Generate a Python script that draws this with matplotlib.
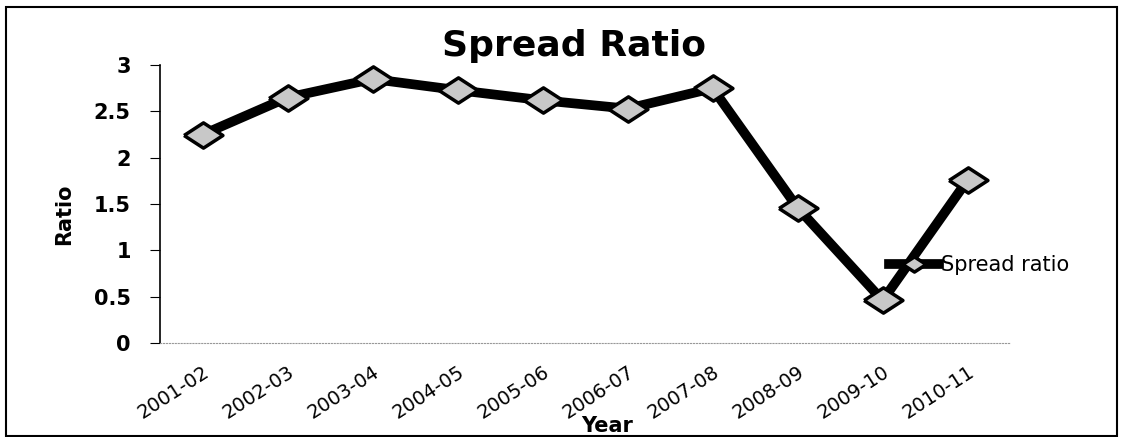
import matplotlib.pyplot as plt
from matplotlib.patches import Rectangle

years = ['2001-02', '2002-03', '2003-04', '2004-05', '2005-06',
         '2006-07', '2007-08', '2008-09', '2009-10', '2010-11']
spread_ratio = [2.25, 2.65, 2.85, 2.73, 2.62, 2.53, 2.75, 1.46, 0.46, 1.76]

plt.rcParams['font.family'] = ['DejaVu Sans']

fig = plt.figure(figsize=(11.23, 4.37), dpi=100)
ax = fig.add_axes([0.1425, 0.215, 0.757, 0.636])

# wide, flat diamond like the Excel marker
diamond = [(-1, 0), (0, 0.65), (1, 0), (0, -0.65), (-1, 0)]

x = range(len(years))
ax.plot(x, spread_ratio, color='black', lw=7, marker=diamond, markersize=28,
        markerfacecolor='#c8c8c8', markeredgecolor='black', markeredgewidth=2.5,
        label='Spread ratio')

ax.set_xlim(-0.5, len(years) - 0.5)
ax.set_ylim(0, 3)
ax.set_yticks([0, 0.5, 1, 1.5, 2, 2.5, 3])
ax.set_yticklabels(['0', '0.5', '1', '1.5', '2', '2.5', '3'])
ax.set_xticks(list(x))
ax.set_xticklabels(years, rotation=33, ha='right', rotation_mode='anchor')
ax.tick_params(axis='y', labelsize=15, length=7, pad=14)
ax.tick_params(axis='x', labelsize=14, length=0, pad=14)
for lab in ax.get_yticklabels():
    lab.set_fontweight('bold')

for s in ['top', 'right']:
    ax.spines[s].set_visible(False)
ax.spines['bottom'].set_linestyle(':')
ax.spines['bottom'].set_color('#999999')
ax.spines['left'].set_linewidth(1.2)
ax.spines['left'].set_linestyle((0, (6, 1)))

fig.text(0.511, 0.895, 'Spread Ratio', fontsize=26, fontweight='bold',
         ha='center', va='center')
fig.text(0.057, 0.51, 'Ratio', fontsize=15, fontweight='bold', rotation=90,
         ha='center', va='center')
fig.text(0.541, 0.025, 'Year', fontsize=15, fontweight='bold',
         ha='center', va='center')

ax.legend(loc='center left', bbox_to_anchor=(0.835, 0.28), frameon=False,
          fontsize=15, handlelength=2.4, handletextpad=0.1, markerscale=0.6)

fig.patches.append(Rectangle((0.005, 0.003), 0.99, 0.98, transform=fig.transFigure,
                             fill=False, edgecolor='black', lw=1.5))

fig.savefig('out.png', dpi=100)
